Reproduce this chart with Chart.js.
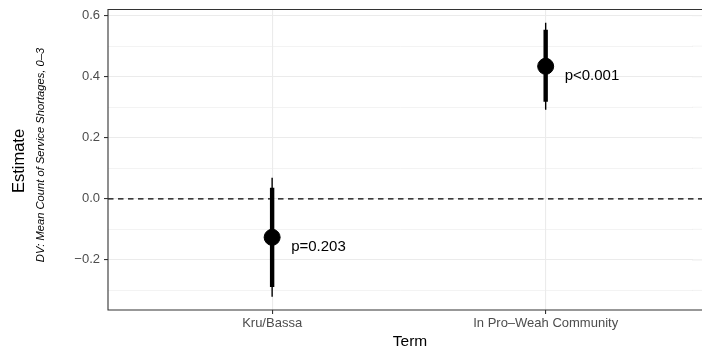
<!DOCTYPE html>
<html>
<head>
<meta charset="utf-8">
<script src="https://cdn.jsdelivr.net/npm/chart.js@4"></script>
<style>
html,body{margin:0;padding:0;background:#fff;overflow:hidden;}
#wrap{width:702px;height:352px;}
</style>
</head>
<body>
<div id="wrap"><canvas id="c" width="702" height="352"></canvas></div>
<script>
const categories = ['Kru/Bassa', 'In Pro\u2013Weah Community'];
const estimates = [-0.126, 0.434];
const ciInnerLo = [-0.289, 0.318];
const ciInnerHi = [0.036, 0.554];
const ciOuterLo = [-0.321, 0.292];
const ciOuterHi = [0.069, 0.577];
const pLabels = ['p=0.203', 'p<0.001'];
const yTicks = [-0.2, 0.0, 0.2, 0.4, 0.6];
const yMinorTicks = [-0.3, -0.1, 0.1, 0.3, 0.5];

const FONT = '"Liberation Sans", Arial, sans-serif';
const datasets = [];
categories.forEach((c, i) => {
  datasets.push({type:'line', data:[{x:i,y:ciOuterLo[i]},{x:i,y:ciOuterHi[i]}], borderColor:'#000', borderWidth:1.4, pointRadius:0, borderCapStyle:'butt'});
  datasets.push({type:'line', data:[{x:i,y:ciInnerLo[i]},{x:i,y:ciInnerHi[i]}], borderColor:'#000', borderWidth:4.4, pointRadius:0, borderCapStyle:'butt'});
});
datasets.push({type:'scatter', data:estimates.map((e,i)=>({x:i,y:e})), backgroundColor:'#000', borderColor:'#000', pointRadius:8, pointHoverRadius:8});

const allY = yTicks.concat(yMinorTicks).sort((a,b)=>a-b);
const fmt = v => { const s = Math.abs(v).toFixed(1); return v < -1e-9 ? '\u2212' + s : s; };
const isMajor = v => yTicks.some(t => Math.abs(t - v) < 1e-9);

const deco = {
  id:'deco',
  beforeDatasetsDraw(chart){
    const {ctx, chartArea:a, scales:{y}} = chart;
    const W = chart.width;
    ctx.save();
    // continue horizontal grid lines to the canvas edge (panel is cropped on the right)
    ctx.strokeStyle = '#EBEBEB';
    allY.forEach(v => {
      const py = y.getPixelForValue(v);
      ctx.lineWidth = isMajor(v) ? 1.1 : 0.6;
      ctx.beginPath(); ctx.moveTo(a.right - 1, py); ctx.lineTo(W, py); ctx.stroke();
    });
    const y0 = y.getPixelForValue(0);
    ctx.strokeStyle = '#000'; ctx.lineWidth = 1.4; ctx.setLineDash([5.5,4.5]);
    ctx.beginPath(); ctx.moveTo(a.left, y0); ctx.lineTo(W, y0); ctx.stroke();
    ctx.restore();
  },
  afterDraw(chart){
    const {ctx, chartArea:a, scales:{x,y}} = chart;
    const W = chart.width;
    ctx.save();
    ctx.strokeStyle = '#333'; ctx.lineWidth = 1.1;
    ctx.beginPath();
    ctx.moveTo(W, a.top); ctx.lineTo(a.left, a.top); ctx.lineTo(a.left, a.bottom); ctx.lineTo(W, a.bottom);
    ctx.stroke();
    ctx.fillStyle = '#000';
    ctx.font = '15px ' + FONT;
    ctx.textAlign = 'left'; ctx.textBaseline = 'middle';
    estimates.forEach((e,i) => {
      ctx.fillText(pLabels[i], x.getPixelForValue(i) + 19, y.getPixelForValue(e) + 10);
    });
    ctx.textAlign = 'center';
    ctx.font = '15.5px ' + FONT;
    ctx.fillText('Term', 410, 342);
    ctx.translate(19.5, 161); ctx.rotate(-Math.PI/2);
    ctx.font = '16.5px ' + FONT;
    ctx.fillText('Estimate', 0, 0);
    ctx.font = 'italic 11.2px ' + FONT;
    ctx.fillText('DV: Mean Count of Service Shortages, 0\u20133', 6, 21);
    ctx.restore();
  }
};

new Chart(document.getElementById('c'), {
  type:'scatter',
  data:{datasets},
  options:{
    responsive:false, animation:false,
    layout:{padding:{left:0, top:9.5, right:0, bottom:0}},
    plugins:{legend:{display:false}, tooltip:{enabled:false}},
    scales:{
      x:{
        type:'linear', min:-0.6, max:1.5386,
        afterBuildTicks(s){ s.ticks = categories.map((c,i)=>({value:i})); },
        afterFit(s){ s.height = 42; s.paddingLeft = 0; s.paddingRight = 0; },
        ticks:{callback:(v)=>categories[v] ?? '', color:'#4D4D4D', font:{size:13, family:FONT}, padding:2, maxRotation:0, autoSkip:false},
        grid:{color:'#EBEBEB', lineWidth:1.1, tickLength:4, tickColor:'#333'},
        border:{display:false}
      },
      y:{
        type:'linear', min:-0.364, max:0.62,
        afterBuildTicks(s){ s.ticks = allY.map(v=>({value:v})); },
        afterFit(s){ s.width = 108; s.paddingTop = 0; s.paddingBottom = 0; },
        ticks:{callback:(v)=> isMajor(v) ? fmt(v) : '', color:'#4D4D4D', font:{size:13, family:FONT}, padding:4, autoSkip:false},
        grid:{
          color:'#EBEBEB',
          lineWidth:(c)=> isMajor(c.tick.value) ? 1.1 : 0.6,
          tickLength:4,
          tickColor:(c)=> isMajor(c.tick.value) ? '#333' : 'rgba(0,0,0,0)'
        },
        border:{display:false}
      }
    }
  },
  plugins:[deco]
});
</script>
</body>
</html>
